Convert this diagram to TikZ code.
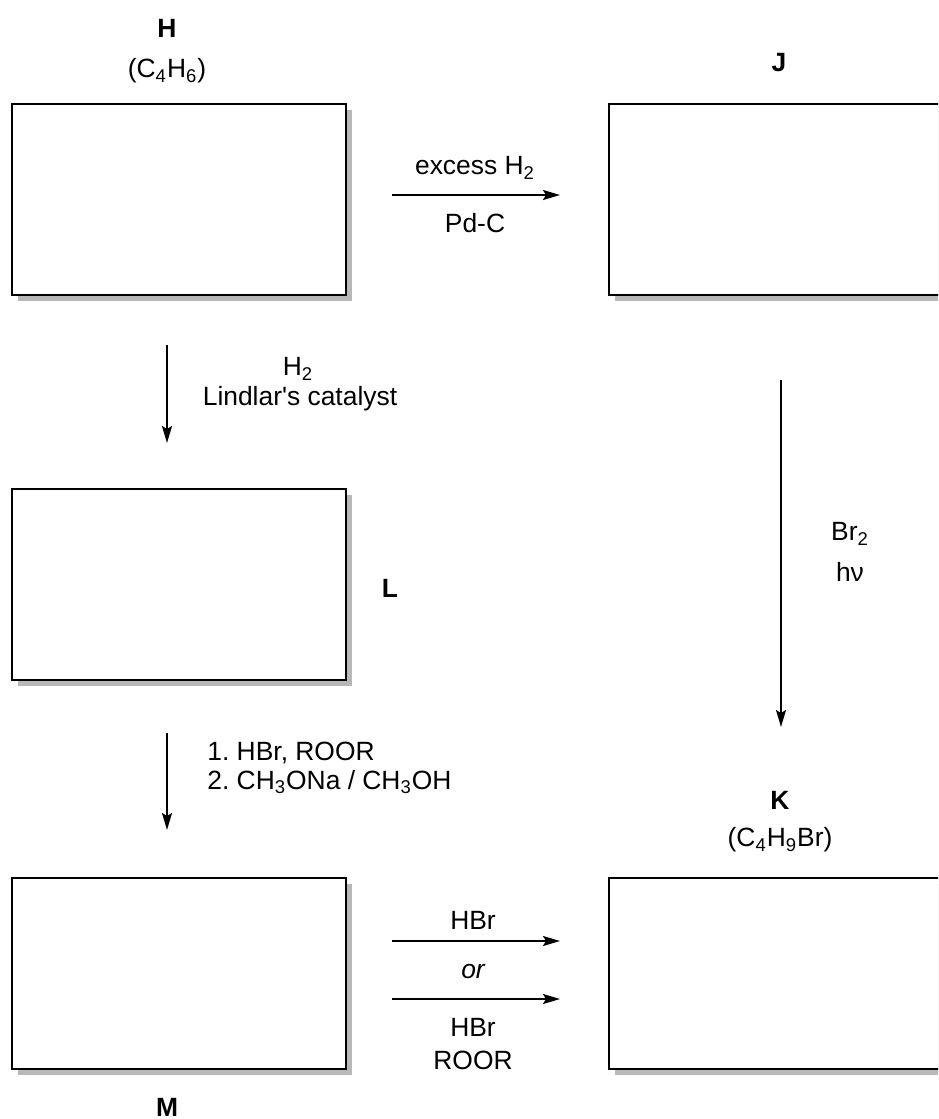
\documentclass[tikz,border=0pt]{standalone}
\usepackage{fontspec}
\setmainfont{Liberation Sans}
\usetikzlibrary{arrows.meta,shadows}
\newcommand{\sbs}[1]{\textsubscript{#1}}
\frenchspacing
\begin{document}
\begin{tikzpicture}[x=0.5pt,y=-0.5pt,
  every node/.style={font=\fontsize{13.2}{15}\selectfont, inner sep=0pt},
  cmpd/.style={draw=black, line width=1pt, fill=white, minimum width=167pt, minimum height=95.5pt,
    drop shadow={shadow xshift=3pt, shadow yshift=-3pt, fill=black!28, opacity=1}},
  lbl/.style={font=\fontsize{13.2}{15}\selectfont\bfseries},
  rxn/.style={line width=0.9pt, -{Stealth[length=8.5pt,width=5pt,inset=1.5pt]}}]
\clip (0,0) rectangle (938,1119);
\useasboundingbox (0,0) rectangle (938,1119);
% boxes
\node[cmpd] (Hbox) at (179,199.5) {};
\node[cmpd] (Jbox) at (776,199.5) {};
\node[cmpd] (Lbox) at (179,584.5) {};
\node[cmpd] (Mbox) at (179,973.5) {};
\node[cmpd] (Kbox) at (776,973.5) {};
% labels
\node[lbl] (Hl) at (167,28) {H};
\node (Hf) at (167,71) {(C\sbs{4}H\sbs{6})};
\node[lbl] (Jl) at (779,63) {J};
\node[lbl] (Ll) at (390,588) {L};
\node[lbl] (Kl) at (780,800) {K};
\node (Kf) at (780,840) {(C\sbs{4}H\sbs{9}Br)};
\node[lbl] (Ml) at (167,1107) {M};
% arrow end points
\coordinate (a1s) at (392,195); \coordinate (a1e) at (560,195);
\coordinate (a2s) at (167,345); \coordinate (a2e) at (167,443);
\coordinate (a3s) at (781,380); \coordinate (a3e) at (781,727);
\coordinate (a4s) at (167,733); \coordinate (a4e) at (167,830);
\coordinate (a5s) at (392,941); \coordinate (a5e) at (560,941);
\coordinate (a6s) at (392,999); \coordinate (a6e) at (560,999);
\draw[rxn] (a1s) -- (a1e);
\draw[rxn] (a2s) -- (a2e);
\draw[rxn] (a3s) -- (a3e);
\draw[rxn] (a4s) -- (a4e);
\draw[rxn] (a5s) -- (a5e);
\draw[rxn] (a6s) -- (a6e);
% reagents
\node (r1a) at (475,168) {excess H\sbs{2}};
\node (r1b) at (475,223) {Pd-C};
\node (r2a) at (298,369) {H\sbs{2}};
\node (r2b) at (300,399) {Lindlar\textquotesingle s catalyst};
\node (r3a) at (850,534) {Br\sbs{2}};
\node (r3b) at (850,572) {hν};
\node[anchor=west] (r4a) at (207,753) {1. HBr, ROOR};
\node[anchor=west] (r4b) at (207,782) {2. CH\sbs{3}ONa / CH\sbs{3}OH};
\node (r5a) at (473,920) {HBr};
\node (r5b) at (473,972) {\itshape or};
\node (r5c) at (473,1027) {HBr};
\node (r5d) at (473,1060) {ROOR};
\end{tikzpicture}
\end{document}
